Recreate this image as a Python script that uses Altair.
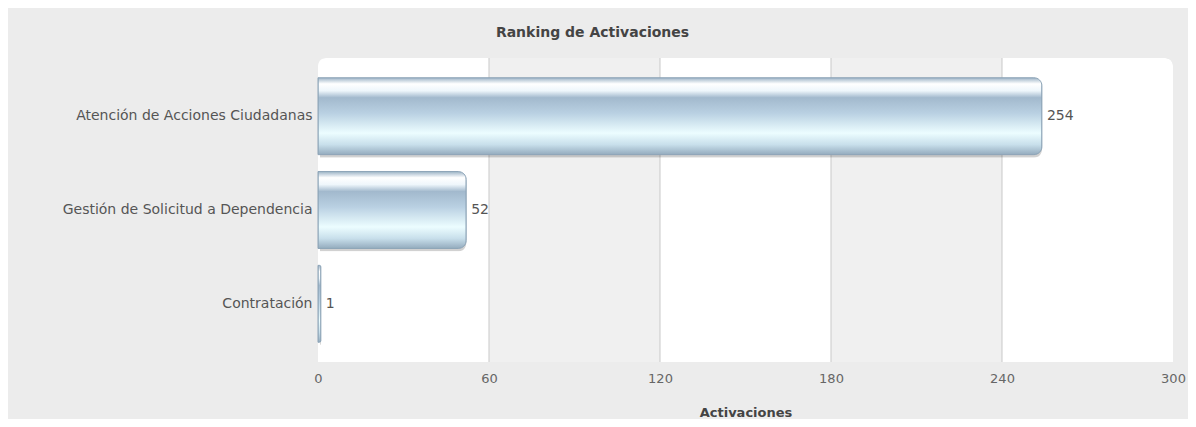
import altair as alt
import pandas as pd

# ---- data ----
categories = ["Atención de Acciones Ciudadanas", "Gestión de Solicitud a Dependencia", "Contratación"]
values = [254, 52, 1]
tick_values = [0, 60, 120, 180, 240, 300]

W, H = 855, 304
FONT = "DejaVu Sans"

df = pd.DataFrame({"category": categories, "value": values})
frame_df = pd.DataFrame({"lo": [tick_values[0]], "hi": [tick_values[-1]]})
band_df = pd.DataFrame({"start": tick_values[1:-1:2], "end": tick_values[2::2]})
grid_df = pd.DataFrame({"tick": tick_values[1:-1]})

xscale = alt.Scale(domain=[tick_values[0], tick_values[-1]], nice=False, zero=True)
XT = "Activaciones"

# plot-area shadow
shadow2 = alt.Chart(frame_df).mark_rect(color="#000000", opacity=0.06, xOffset=3, yOffset=3,
                                        cornerRadiusTopLeft=8, cornerRadiusTopRight=8).encode(
    x=alt.X("lo:Q", scale=xscale, title=XT), x2="hi:Q",
    y=alt.value(0), y2=alt.value(H))
shadow1 = alt.Chart(frame_df).mark_rect(color="#000000", opacity=0.10, xOffset=1, yOffset=1,
                                        cornerRadiusTopLeft=8, cornerRadiusTopRight=8).encode(
    x=alt.X("lo:Q", scale=xscale, title=XT), x2="hi:Q",
    y=alt.value(-1), y2=alt.value(H))
frame = alt.Chart(frame_df).mark_rect(color="#ffffff",
                                      cornerRadiusTopLeft=8, cornerRadiusTopRight=8).encode(
    x=alt.X("lo:Q", scale=xscale, title=XT), x2="hi:Q",
    y=alt.value(0), y2=alt.value(H))

bands = alt.Chart(band_df).mark_rect(color="#f0f0f0").encode(
    x=alt.X("start:Q", scale=xscale, title=XT), x2="end:Q",
    y=alt.value(0), y2=alt.value(H))

grid = alt.Chart(grid_df).mark_rule(color="#c9c9c9", strokeWidth=1).encode(
    x=alt.X("tick:Q", scale=xscale, title=XT),
    y=alt.value(0), y2=alt.value(H))

grad = alt.Gradient(
    gradient="linear", x1=0, x2=0, y1=0, y2=1,
    stops=[
        alt.GradientStop(color="#9cb3c6", offset=0.0),
        alt.GradientStop(color="#ffffff", offset=0.08),
        alt.GradientStop(color="#eef6fb", offset=0.17),
        alt.GradientStop(color="#a2b9cd", offset=0.26),
        alt.GradientStop(color="#b9d0e2", offset=0.46),
        alt.GradientStop(color="#ecfdff", offset=0.72),
        alt.GradientStop(color="#c8dfeb", offset=0.87),
        alt.GradientStop(color="#94abbe", offset=1.0),
    ],
)

yenc = alt.Y("category:N", sort=categories,
             scale=alt.Scale(paddingInner=0.18, paddingOuter=0.21),
             axis=alt.Axis(title=None, labelFont=FONT, labelFontSize=14, labelColor="#555555",
                           labelPadding=6, ticks=False, domain=False, grid=False, labelLimit=400))

xenc = alt.X("value:Q", scale=xscale, title=XT,
             axis=alt.Axis(values=tick_values, grid=False, ticks=False, tickSize=0, domain=False,
                           labelFont=FONT, labelFontSize=13, labelColor="#666666",
                           labelPadding=10, labelFlush=False,
                           titleFont=FONT, titleFontSize=13, titleFontWeight="bold",
                           titleColor="#444444", titlePadding=21))

bar_shadow = alt.Chart(df).mark_bar(color="#000000", opacity=0.18, xOffset=2, yOffset=3,
                                    cornerRadiusEnd=8).encode(x=xenc, y=yenc)
bars = alt.Chart(df).mark_bar(color=grad, stroke="#8ea5b8", strokeWidth=1,
                              cornerRadiusEnd=8).encode(x=xenc, y=yenc)
labels = alt.Chart(df).mark_text(align="left", baseline="middle", dx=5, font=FONT,
                                 fontSize=14, color="#555555").encode(
    x=xenc, y=yenc, text="value:Q")

chart = alt.layer(shadow2, shadow1, frame, bands, grid, bar_shadow, bars, labels).properties(
    width=W, height=H,
    padding={"left": 310, "top": 50, "right": 15, "bottom": 57},
    autosize=alt.AutoSizeParams(type="none"),
    title=alt.TitleParams("Ranking de Activaciones", font=FONT, fontSize=14, fontWeight="bold",
                          color="#444444", anchor="middle", dx=-153, offset=18),
).configure(background="#ececec").configure_view(stroke=None, fill=None)

chart.save("out.html", embed_options={"renderer": "svg", "actions": False})
